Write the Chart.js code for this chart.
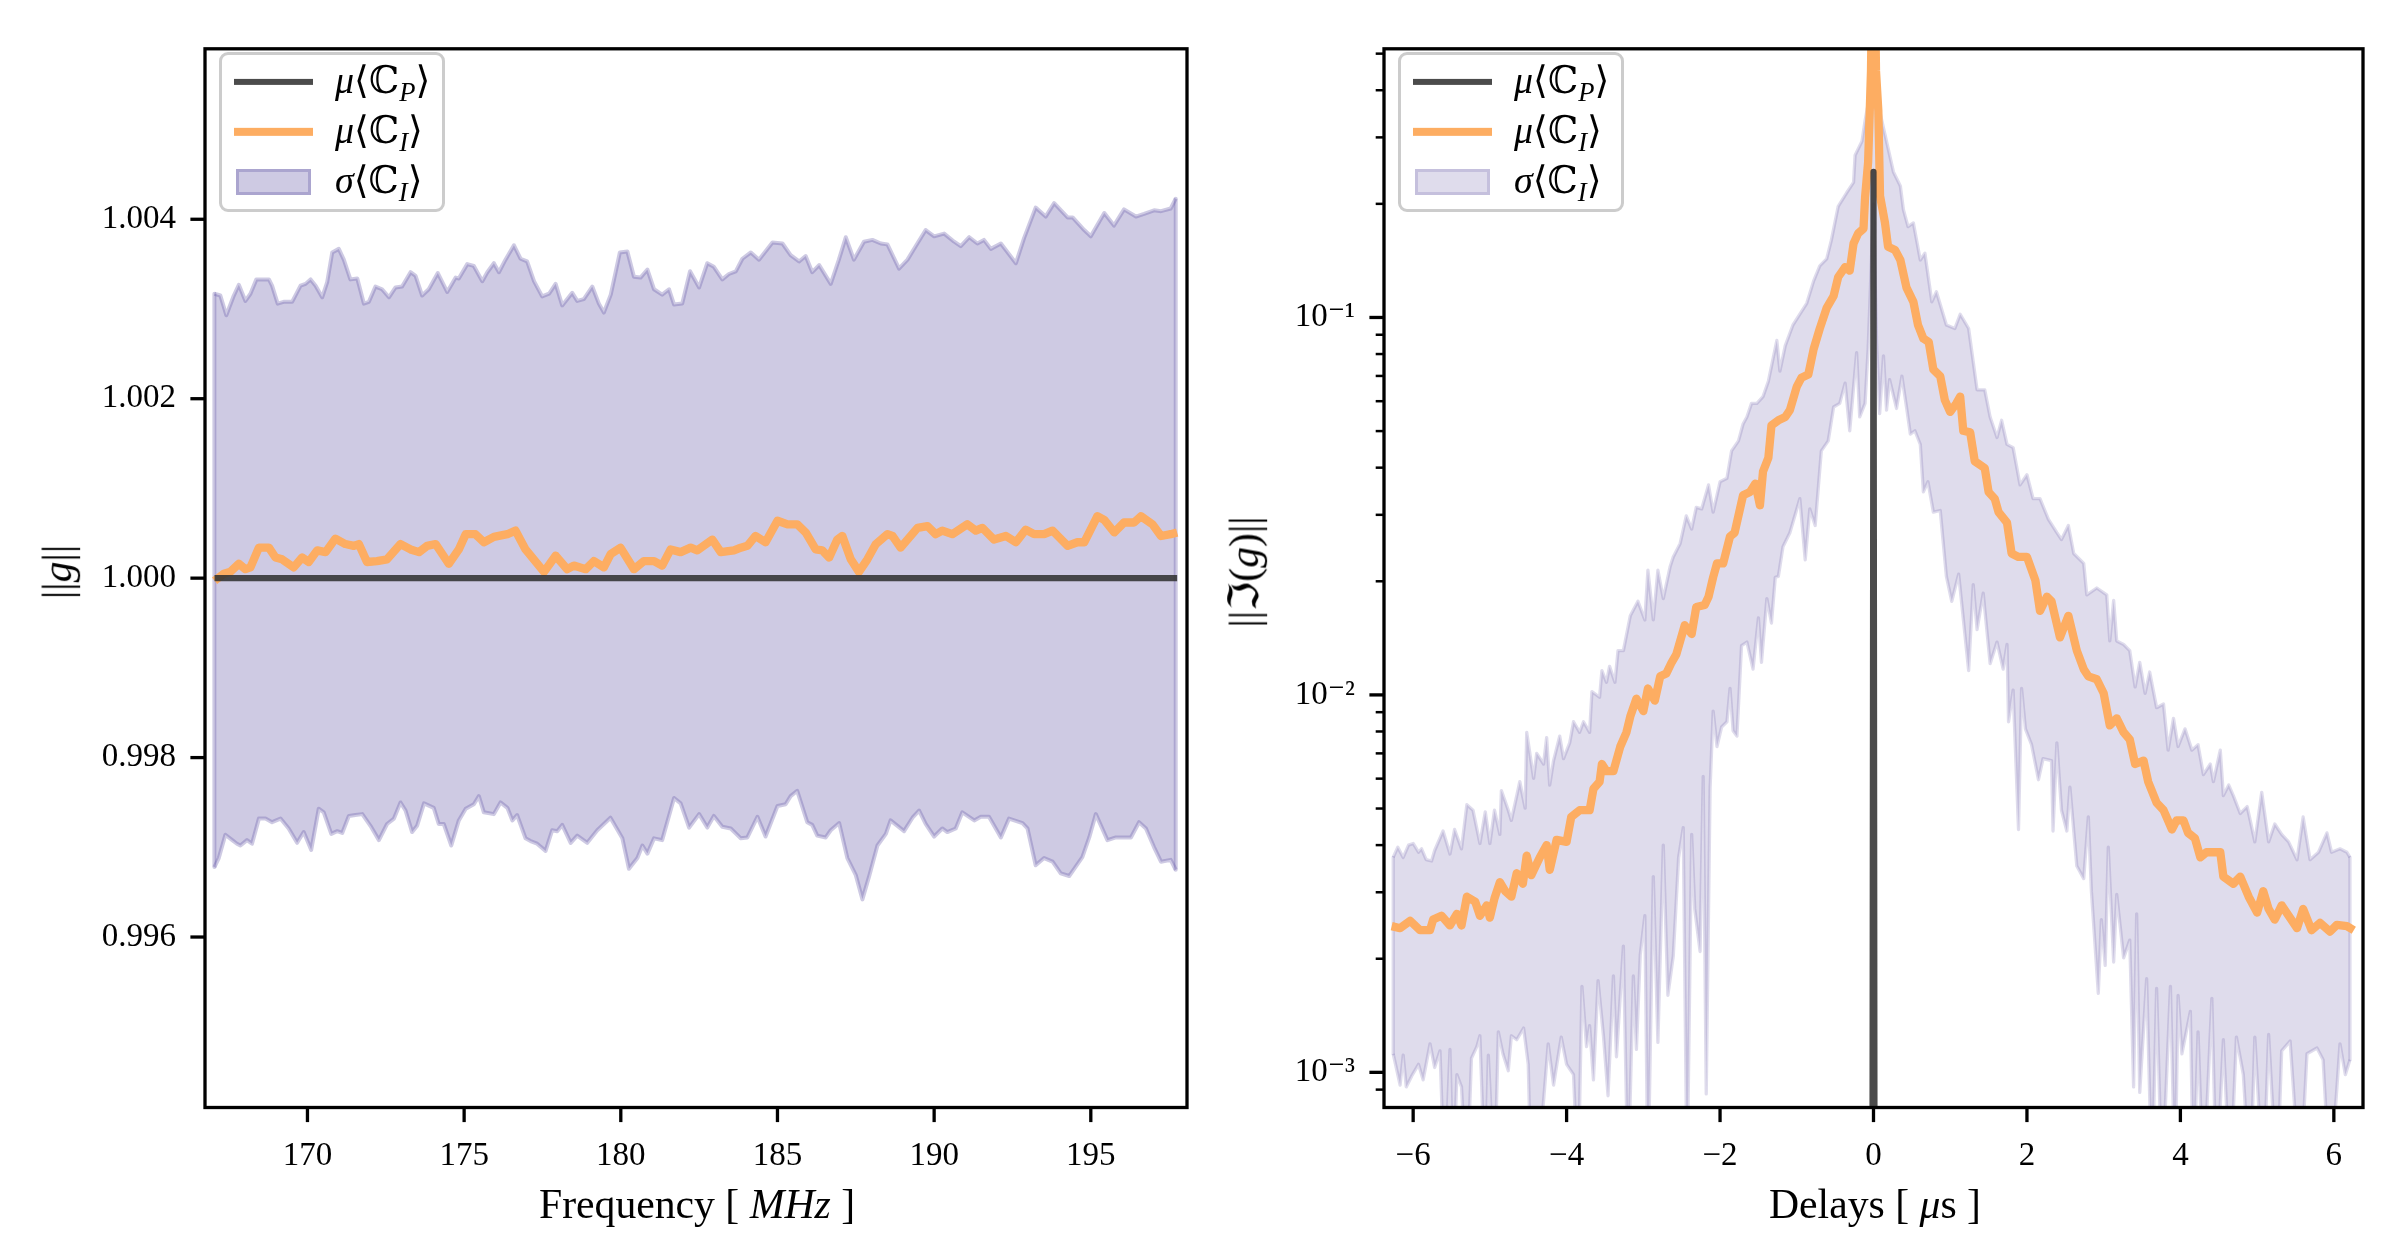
<!DOCTYPE html>
<html>
<head>
<meta charset="utf-8">
<script src="https://cdn.jsdelivr.net/npm/chart.js@4.4.1/dist/chart.umd.min.js"></script>
<style>
  body { margin: 0; background: #fff; }
  #fig { position: relative; width: 2400px; height: 1260px; overflow: hidden; background: #fff;
         font-family: 'Liberation Serif', 'DejaVu Serif', 'DejaVu Sans', serif; color: #000; }
  canvas { position: absolute; top: 0; }
  .lbl { position: absolute; white-space: nowrap; font-size: 41.7px; line-height: 1; transform: translate(-50%, -50%); }
  .rot { transform: translate(-50%, -50%) rotate(-90deg); }
  .leg { position: absolute; width: 226px; height: 160px; box-sizing: border-box; border: 3.5px solid #cccccc;
         border-radius: 9px; background: rgba(255,255,255,0.8); }
  .row { position: absolute; left: 0; width: 100%; height: 50px; }
  .hl { position: absolute; left: 12px; width: 79px; top: 50%; transform: translateY(-50%); }
  .hp { position: absolute; left: 14px; width: 75px; height: 26px; top: 50%; transform: translateY(-50%); box-sizing: border-box; }
  .tx { position: absolute; left: 113px; top: 50%; transform: translateY(-55%); font-size: 38px; line-height: 1; white-space: nowrap; }
  sub { font-size: 70%; vertical-align: -0.28em; line-height: 0; }
</style>
</head>
<body>
<div id="fig">
  <canvas id="gainChart" width="1200" height="1260" style="left:0"></canvas>
  <canvas id="delayChart" width="1200" height="1260" style="left:1200px"></canvas>

  <div class="lbl rot" style="left:58px; top:572px">||<i>g</i>||</div>
  <div class="lbl" style="left:697px; top:1205px">Frequency [ <i>MHz</i> ]</div>
  <div class="lbl rot" style="left:1245px; top:572px">||ℑ(<i>g</i>)||</div>
  <div class="lbl" style="left:1875px; top:1205px">Delays [ <i>μ</i>s ]</div>

  <div class="leg" style="left:219px; top:52px">
    <div class="row" style="top:2px"><div class="hl" style="height:6.2px; background:rgba(50,50,50,0.88)"></div>
      <div class="tx"><i>μ</i>⟨ℂ<sub><i>P</i></sub>⟩</div></div>
    <div class="row" style="top:52px"><div class="hl" style="height:8.3px; background:#fdad62"></div>
      <div class="tx"><i>μ</i>⟨ℂ<sub><i>I</i></sub>⟩</div></div>
    <div class="row" style="top:102px"><div class="hp" style="background:rgba(94,79,162,0.3); border:3px solid rgba(94,79,162,0.3)"></div>
      <div class="tx"><i>σ</i>⟨ℂ<sub><i>I</i></sub>⟩</div></div>
  </div>
  <div class="leg" style="left:1398px; top:52px">
    <div class="row" style="top:2px"><div class="hl" style="height:6.2px; background:rgba(50,50,50,0.88)"></div>
      <div class="tx"><i>μ</i>⟨ℂ<sub><i>P</i></sub>⟩</div></div>
    <div class="row" style="top:52px"><div class="hl" style="height:8.3px; background:#fdad62"></div>
      <div class="tx"><i>μ</i>⟨ℂ<sub><i>I</i></sub>⟩</div></div>
    <div class="row" style="top:102px"><div class="hp" style="background:rgba(94,79,162,0.2); border:3px solid rgba(94,79,162,0.2)"></div>
      <div class="tx"><i>σ</i>⟨ℂ<sub><i>I</i></sub>⟩</div></div>
  </div>
</div>

<script>
// tick labels
const freqTicks = [170, 175, 180, 185, 190, 195];
const gainTicks = [0.996, 0.998, 1.000, 1.002, 1.004];
const delayTicks = [-6, -4, -2, 0, 2, 4, 6];
const powerTicks = [1e-3, 1e-2, 1e-1];

// left panel: gain vs frequency (MHz)
const refFreq = [167.035, 197.755];
const refGain = [1.0, 1.0];

const meanFreq = [167.035, 167.33, 167.54, 167.81, 168.02, 168.18, 168.45, 168.77, 168.98, 169.19, 169.56, 169.83,
  170.04, 170.31, 170.58, 170.89, 171.21, 171.48, 171.64, 171.90, 172.22, 172.54, 172.97, 173.29, 173.56, 173.82,
  174.09, 174.51, 174.83, 175.05, 175.36, 175.63, 175.95, 176.38, 176.64, 176.96, 177.55, 177.92, 178.29, 178.50,
  178.88, 179.14, 179.46, 179.68, 179.99, 180.42, 180.74, 181.06, 181.32, 181.59, 181.91, 182.23, 182.44, 182.92,
  183.19, 183.61, 183.83, 184.04, 184.30, 184.62, 185.00, 185.32, 185.63, 185.90, 186.22, 186.43, 186.65, 186.91,
  187.07, 187.34, 187.60, 187.87, 188.14, 188.51, 188.67, 188.93, 189.47, 189.79, 190.05, 190.26, 190.58, 191.06,
  191.33, 191.54, 191.91, 192.29, 192.61, 192.92, 193.19, 193.51, 193.78, 194.26, 194.57, 194.79, 195.21, 195.43,
  195.75, 196.06, 196.38, 196.60, 196.97, 197.24, 197.55, 197.755];
const meanGain = [0.99997, 1.00005, 1.00007, 1.00016, 1.00010, 1.00012, 1.00034, 1.00034, 1.00023, 1.00021, 1.00012, 1.00023,
  1.00018, 1.00031, 1.00029, 1.00044, 1.00038, 1.00036, 1.00038, 1.00018, 1.00019, 1.00021, 1.00038, 1.00032, 1.00029, 1.00036,
  1.00038, 1.00016, 1.00032, 1.00049, 1.00049, 1.00040, 1.00046, 1.00049, 1.00053, 1.00032, 1.00007, 1.00025, 1.00010, 1.00014,
  1.00010, 1.00019, 1.00012, 1.00027, 1.00034, 1.00010, 1.00019, 1.00019, 1.00014, 1.00032, 1.00029, 1.00034, 1.00031, 1.00043,
  1.00029, 1.00031, 1.00034, 1.00036, 1.00047, 1.00040, 1.00064, 1.00060, 1.00060, 1.00051, 1.00032, 1.00031, 1.00023, 1.00043,
  1.00047, 1.00021, 1.00007, 1.00021, 1.00038, 1.00049, 1.00047, 1.00034, 1.00056, 1.00058, 1.00049, 1.00053, 1.00049, 1.00060,
  1.00053, 1.00056, 1.00043, 1.00047, 1.00040, 1.00054, 1.00049, 1.00049, 1.00053, 1.00036, 1.00040, 1.00040, 1.00069, 1.00065,
  1.00051, 1.00062, 1.00062, 1.00069, 1.00060, 1.00047, 1.00049, 1.00051];

const upperFreq = [167.03, 167.22, 167.41, 167.65, 167.81, 168.02, 168.18, 168.37, 168.77, 168.87, 169.05, 169.24, 169.51,
  169.78, 169.94, 170.10, 170.26, 170.47, 170.63, 170.79, 171.00, 171.16, 171.37, 171.59, 171.80, 171.96, 172.17, 172.38,
  172.60, 172.81, 173.02, 173.29, 173.45, 173.66, 173.87, 174.16, 174.46, 174.73, 174.83, 175.10, 175.31, 175.58, 175.74,
  175.95, 176.11, 176.32, 176.59, 176.80, 177.01, 177.23, 177.49, 177.71, 177.92, 178.13, 178.45, 178.61, 178.82, 179.09,
  179.30, 179.46, 179.68, 179.97, 180.21, 180.42, 180.63, 180.85, 181.06, 181.32, 181.54, 181.70, 181.96, 182.21, 182.50,
  182.76, 182.97, 183.24, 183.45, 183.67, 183.88, 184.15, 184.41, 184.84, 185.16, 185.42, 185.69, 185.90, 186.11, 186.33,
  186.70, 186.96, 187.18, 187.44, 187.76, 188.03, 188.30, 188.51, 188.88, 189.15, 189.41, 189.73, 190.00, 190.32, 190.64,
  190.85, 191.12, 191.38, 191.59, 191.81, 192.13, 192.61, 192.87, 193.24, 193.56, 193.83, 194.26, 194.42, 194.79, 195.00,
  195.43, 195.74, 196.06, 196.44, 196.70, 197.02, 197.24, 197.55, 197.71];
const upperGain = [1.00317, 1.00315, 1.00293, 1.00315, 1.00327, 1.00309, 1.00317, 1.00333, 1.00333, 1.00326, 1.00306, 1.00308, 1.00308,
  1.00326, 1.00328, 1.00333, 1.00326, 1.00313, 1.00330, 1.00363, 1.00367, 1.00355, 1.00333, 1.00334, 1.00306, 1.00308, 1.00325, 1.00322,
  1.00313, 1.00324, 1.00325, 1.00341, 1.00337, 1.00315, 1.00322, 1.00340, 1.00319, 1.00335, 1.00334, 1.00350, 1.00348, 1.00331, 1.00341,
  1.00351, 1.00341, 1.00355, 1.00371, 1.00356, 1.00353, 1.00331, 1.00314, 1.00317, 1.00328, 1.00304, 1.00318, 1.00309, 1.00311, 1.00325,
  1.00306, 1.00296, 1.00316, 1.00363, 1.00364, 1.00336, 1.00335, 1.00344, 1.00322, 1.00316, 1.00322, 1.00305, 1.00306, 1.00342, 1.00324,
  1.00351, 1.00347, 1.00333, 1.00339, 1.00342, 1.00356, 1.00363, 1.00355, 1.00374, 1.00373, 1.00360, 1.00353, 1.00359, 1.00341, 1.00349,
  1.00328, 1.00355, 1.00380, 1.00355, 1.00375, 1.00377, 1.00373, 1.00372, 1.00345, 1.00355, 1.00370, 1.00388, 1.00381, 1.00384, 1.00375,
  1.00370, 1.00380, 1.00373, 1.00377, 1.00367, 1.00373, 1.00351, 1.00379, 1.00413, 1.00403, 1.00418, 1.00402, 1.00402, 1.00388, 1.00381,
  1.00407, 1.00393, 1.00411, 1.00403, 1.00406, 1.00410, 1.00409, 1.00412, 1.00423];

const lowerFreq = [167.03, 167.17, 167.38, 167.60, 167.75, 167.86, 168.07, 168.23, 168.45, 168.66, 168.87, 169.14, 169.40,
  169.67, 169.88, 170.12, 170.36, 170.52, 170.76, 170.95, 171.11, 171.32, 171.53, 171.75, 172.01, 172.28, 172.54, 172.76,
  172.97, 173.13, 173.34, 173.50, 173.72, 174.03, 174.19, 174.35, 174.59, 174.83, 175.05, 175.31, 175.47, 175.63, 175.95,
  176.16, 176.38, 176.54, 176.69, 176.96, 177.12, 177.33, 177.60, 177.81, 177.97, 178.13, 178.40, 178.61, 178.93, 179.25,
  179.67, 180.05, 180.26, 180.53, 180.69, 180.85, 181.06, 181.32, 181.70, 181.91, 182.18, 182.50, 182.76, 182.97, 183.24,
  183.51, 183.83, 184.04, 184.36, 184.62, 185.00, 185.26, 185.42, 185.63, 185.95, 186.11, 186.27, 186.54, 186.70, 186.97,
  187.23, 187.50, 187.71, 187.92, 188.19, 188.46, 188.61, 189.04, 189.31, 189.52, 189.73, 190.00, 190.26, 190.42, 190.69,
  190.90, 191.28, 191.49, 191.75, 192.13, 192.39, 192.82, 192.98, 193.24, 193.51, 193.78, 194.04, 194.31, 194.73, 194.95,
  195.16, 195.53, 195.80, 196.28, 196.54, 196.76, 197.02, 197.24, 197.55, 197.71];
const lowerGain = [0.99678, 0.99688, 0.99714, 0.99708, 0.99704, 0.99702, 0.99708, 0.99704, 0.99732, 0.99732, 0.99728, 0.99732, 0.99721,
  0.99705, 0.99717, 0.99697, 0.99743, 0.99739, 0.99715, 0.99718, 0.99716, 0.99735, 0.99736, 0.99737, 0.99724, 0.99708, 0.99726, 0.99732,
  0.99750, 0.99741, 0.99717, 0.99724, 0.99749, 0.99744, 0.99726, 0.99726, 0.99702, 0.99730, 0.99743, 0.99748, 0.99757, 0.99739, 0.99737,
  0.99750, 0.99744, 0.99730, 0.99736, 0.99710, 0.99707, 0.99704, 0.99696, 0.99719, 0.99718, 0.99725, 0.99705, 0.99713, 0.99705, 0.99719,
  0.99733, 0.99710, 0.99676, 0.99688, 0.99702, 0.99693, 0.99710, 0.99708, 0.99755, 0.99749, 0.99722, 0.99737, 0.99722, 0.99735, 0.99723,
  0.99721, 0.99710, 0.99711, 0.99734, 0.99712, 0.99746, 0.99748, 0.99757, 0.99763, 0.99728, 0.99725, 0.99713, 0.99711, 0.99719, 0.99727,
  0.99688, 0.99669, 0.99642, 0.99667, 0.99702, 0.99715, 0.99730, 0.99718, 0.99733, 0.99741, 0.99726, 0.99712, 0.99721, 0.99717, 0.99721,
  0.99739, 0.99730, 0.99734, 0.99734, 0.99711, 0.99732, 0.99727, 0.99721, 0.99680, 0.99688, 0.99684, 0.99671, 0.99668, 0.99689, 0.99711,
  0.99737, 0.99708, 0.99711, 0.99711, 0.99728, 0.99721, 0.99700, 0.99684, 0.99686, 0.99675];

// right panel: delay spectrum (delays in microseconds)
const peakDelay = [-0.0326, 0, 0.0326];
const peakPower = [1e-7, 0.243, 1e-7];

const meanDelay = [-6.28, -6.17, -6.04, -5.91, -5.78, -5.74, -5.63, -5.52, -5.43, -5.37, -5.30, -5.19, -5.13, -5.04, -5.00,
  -4.94, -4.87, -4.80, -4.72, -4.65, -4.57, -4.52, -4.46, -4.35, -4.26, -4.22, -4.13, -4.00, -3.94, -3.83, -3.70, -3.65,
  -3.57, -3.54, -3.48, -3.39, -3.30, -3.22, -3.17, -3.09, -3.00, -2.94, -2.85, -2.78, -2.70, -2.63, -2.57, -2.46, -2.37,
  -2.31, -2.20, -2.15, -2.09, -2.04, -1.96, -1.87, -1.81, -1.70, -1.61, -1.54, -1.48, -1.44, -1.37, -1.33, -1.24, -1.15,
  -1.09, -1.00, -0.94, -0.85, -0.78, -0.70, -0.61, -0.52, -0.46, -0.37, -0.31, -0.26, -0.20, -0.13, -0.11, -0.07, -0.0326,
  0, 0.0326, 0.063, 0.085, 0.15, 0.19, 0.28, 0.35, 0.43, 0.52, 0.58, 0.65, 0.72, 0.78, 0.87, 0.93, 1.00, 1.08, 1.13, 1.17,
  1.26, 1.32, 1.45, 1.50, 1.58, 1.63, 1.74, 1.80, 1.89, 2.00, 2.11, 2.17, 2.26, 2.32, 2.43, 2.54, 2.65, 2.74, 2.80, 2.91,
  3.00, 3.08, 3.17, 3.26, 3.34, 3.41, 3.52, 3.58, 3.69, 3.78, 3.89, 3.95, 4.04, 4.10, 4.19, 4.26, 4.34, 4.52, 4.56, 4.69,
  4.78, 4.89, 5.00, 5.08, 5.15, 5.23, 5.32, 5.52, 5.60, 5.71, 5.82, 5.95, 6.04, 6.17, 6.26];
const meanPower = [0.00244, 0.00241, 0.00252, 0.00238, 0.00238, 0.00254, 0.00260, 0.00245, 0.00263, 0.00245, 0.00292, 0.00283, 0.00260, 0.00277, 0.00257,
  0.00289, 0.00319, 0.00302, 0.00292, 0.00337, 0.00316, 0.00375, 0.00333, 0.00371, 0.00400, 0.00344, 0.00413, 0.00408, 0.00475, 0.00495, 0.00495, 0.00564,
  0.00589, 0.00656, 0.00628, 0.00628, 0.00730, 0.00796, 0.00877, 0.00977, 0.00906, 0.0104, 0.00966, 0.0112, 0.0114, 0.0122, 0.0128, 0.0153, 0.0145,
  0.0171, 0.0173, 0.0182, 0.0205, 0.0223, 0.0223, 0.0263, 0.0269, 0.0338, 0.0345, 0.0363, 0.0318, 0.0391, 0.0425, 0.0518, 0.0534, 0.0545,
  0.0568, 0.0656, 0.0692, 0.0706, 0.0825, 0.0935, 0.106, 0.114, 0.128, 0.136, 0.133, 0.157, 0.167, 0.172, 0.208, 0.258, 0.45,
  1.5, 0.45, 0.353, 0.210, 0.178, 0.154, 0.151, 0.142, 0.120, 0.110, 0.0955, 0.0879, 0.0861, 0.0728, 0.0699, 0.0604, 0.0562, 0.0592, 0.0617, 0.0501,
  0.0496, 0.0416, 0.0399, 0.0345, 0.0331, 0.0305, 0.0286, 0.0237, 0.0232, 0.0232, 0.0201, 0.0167, 0.0182, 0.0177, 0.0142, 0.0162, 0.0131, 0.0117, 0.0112, 0.0110,
  0.0101, 0.00830, 0.00867, 0.00796, 0.00762, 0.00656, 0.00670, 0.00589, 0.00518, 0.00495, 0.00440, 0.00465, 0.00465, 0.00431, 0.00417, 0.00371, 0.00383, 0.00383, 0.00330, 0.00316,
  0.00330, 0.00292, 0.00265, 0.00302, 0.00271, 0.00254, 0.00277, 0.00241, 0.00271, 0.00238, 0.00249, 0.00236, 0.00246, 0.00244, 0.00238];

const upperDelay = [-6.26, -6.20, -6.13, -6.06, -6.00, -5.93, -5.89, -5.83, -5.76, -5.72, -5.61, -5.52, -5.46, -5.37, -5.30,
  -5.22, -5.13, -5.06, -5.00, -4.94, -4.87, -4.85, -4.76, -4.72, -4.61, -4.54, -4.52, -4.43, -4.39, -4.30, -4.26, -4.22,
  -4.17, -4.09, -4.04, -3.96, -3.91, -3.83, -3.78, -3.70, -3.67, -3.57, -3.54, -3.48, -3.44, -3.37, -3.33, -3.26, -3.17,
  -3.07, -2.98, -2.94, -2.87, -2.81, -2.74, -2.65, -2.61, -2.52, -2.44, -2.37, -2.31, -2.24, -2.15, -2.09, -2.00, -1.91,
  -1.85, -1.76, -1.70, -1.65, -1.59, -1.52, -1.44, -1.37, -1.26, -1.22, -1.15, -1.05, -0.96, -0.87, -0.78, -0.70, -0.61,
  -0.55, -0.46, -0.35, -0.26, -0.24, -0.15, -0.11, -0.07, -0.03, 0, 0.03, 0.06, 0.13, 0.19, 0.26, 0.35, 0.39, 0.45, 0.52,
  0.61, 0.67, 0.76, 0.82, 0.95, 1.06, 1.13, 1.24, 1.35, 1.45, 1.52, 1.61, 1.67, 1.74, 1.82, 1.91, 2.00, 2.08, 2.17, 2.28,
  2.39, 2.45, 2.54, 2.61, 2.74, 2.78, 2.91, 3.04, 3.08, 3.13, 3.17, 3.26, 3.34, 3.41, 3.47, 3.54, 3.60, 3.69, 3.78, 3.84,
  3.91, 3.97, 4.06, 4.15, 4.23, 4.30, 4.39, 4.43, 4.52, 4.56, 4.63, 4.69, 4.78, 4.87, 4.91, 4.97, 5.06, 5.15, 5.23, 5.32,
  5.41, 5.52, 5.60, 5.69, 5.80, 5.91, 5.97, 6.08, 6.17, 6.21];
const upperPower = [0.00371, 0.00395, 0.00371, 0.00400, 0.00404, 0.00383, 0.00391, 0.00366, 0.00363, 0.00387, 0.00436, 0.00379, 0.00440, 0.00391, 0.00512,
  0.00495, 0.00404, 0.00490, 0.00404, 0.00495, 0.00427, 0.00558, 0.00495, 0.00465, 0.00589, 0.00501, 0.00796, 0.00601, 0.00700, 0.00656, 0.00771, 0.00577,
  0.00670, 0.00778, 0.00678, 0.00746, 0.00849, 0.00796, 0.00849, 0.00796, 0.0102, 0.00986, 0.0116, 0.0108, 0.0119, 0.0108, 0.0131, 0.0131, 0.0162,
  0.0177, 0.0158, 0.0214, 0.0158, 0.0214, 0.0180, 0.0219, 0.0232, 0.0252, 0.0298, 0.0275, 0.0314, 0.0311, 0.0360, 0.0305, 0.0367, 0.0375,
  0.0443, 0.0471, 0.0522, 0.0545, 0.0592, 0.0592, 0.0617, 0.0678, 0.0869, 0.0721, 0.0842, 0.0955, 0.102, 0.109, 0.125, 0.137, 0.143,
  0.160, 0.197, 0.214, 0.228, 0.269, 0.293, 0.332, 0.368, 0.6, 2.0, 0.6, 0.368, 0.318, 0.281, 0.243, 0.223, 0.193, 0.174, 0.178,
  0.142, 0.148, 0.110, 0.117, 0.0955, 0.0935, 0.102, 0.0935, 0.0643, 0.0643, 0.0545, 0.0481, 0.0534, 0.0461, 0.0452, 0.0360, 0.0383, 0.0331, 0.0331, 0.0292,
  0.0269, 0.0258, 0.0281, 0.0237, 0.0223, 0.0184, 0.0192, 0.0184, 0.0139, 0.0178, 0.0139, 0.0136, 0.0131, 0.0105, 0.0122, 0.0101, 0.0115, 0.00925, 0.00946, 0.00714,
  0.00867, 0.00730, 0.00813, 0.00714, 0.00738, 0.00615, 0.00656, 0.00589, 0.00714, 0.00541, 0.00577, 0.00541, 0.00485, 0.00506, 0.00465, 0.00408, 0.00552, 0.00408, 0.00455, 0.00427,
  0.00408, 0.00366, 0.00475, 0.00366, 0.00383, 0.00431, 0.00383, 0.00391, 0.00383, 0.00371];

const lowerDelay = [-6.26, -6.17, -6.13, -6.09, -6.02, -5.93, -5.87, -5.78, -5.72, -5.65, -5.59, -5.52, -5.48, -5.43, -5.37,
  -5.30, -5.24, -5.17, -5.13, -5.06, -5.02, -4.94, -4.89, -4.83, -4.76, -4.72, -4.65, -4.56, -4.50, -4.46, -4.39, -4.24,
  -4.17, -4.07, -4.00, -3.91, -3.85, -3.80, -3.74, -3.70, -3.65, -3.59, -3.52, -3.46, -3.39, -3.35, -3.26, -3.20, -3.13,
  -3.09, -3.04, -2.98, -2.94, -2.87, -2.81, -2.74, -2.68, -2.61, -2.54, -2.48, -2.43, -2.37, -2.33, -2.26, -2.22, -2.18,
  -2.13, -2.09, -2.04, -1.98, -1.91, -1.87, -1.83, -1.78, -1.72, -1.65, -1.57, -1.50, -1.46, -1.39, -1.33, -1.28, -1.24,
  -1.18, -1.09, -0.96, -0.89, -0.83, -0.76, -0.68, -0.59, -0.52, -0.44, -0.37, -0.31, -0.22, -0.18, -0.11, -0.07, 0,
  0.04, 0.08, 0.13, 0.17, 0.21, 0.30, 0.37, 0.43, 0.48, 0.54, 0.61, 0.65, 0.71, 0.78, 0.87, 0.95, 1.02, 1.11, 1.24, 1.30,
  1.35, 1.43, 1.52, 1.61, 1.69, 1.74, 1.76, 1.82, 1.89, 1.93, 1.98, 2.06, 2.15, 2.21, 2.32, 2.34, 2.39, 2.45, 2.52, 2.56,
  2.65, 2.74, 2.80, 2.84, 2.93, 2.97, 3.02, 3.06, 3.13, 3.17, 3.26, 3.34, 3.39, 3.43, 3.47, 3.56, 3.63, 3.69, 3.76, 3.87,
  3.93, 3.97, 4.02, 4.13, 4.17, 4.23, 4.30, 4.41, 4.47, 4.56, 4.65, 4.73, 4.82, 4.91, 4.97, 5.08, 5.15, 5.26, 5.32, 5.43,
  5.56, 5.65, 5.78, 5.86, 5.95, 6.08, 6.15, 6.21];
const lowerPower = [0.00112, 0.000925, 0.00111, 0.000915, 0.000977, 0.00105, 0.000955, 0.00119, 0.00103, 0.00114, 0.0005, 0.00115, 0.0005, 0.000986, 0.000915,
  0.0005, 0.00109, 0.00117, 0.00125, 0.0005, 0.00111, 0.0005, 0.00128, 0.00112, 0.00101, 0.00125, 0.00122, 0.00131, 0.00105, 0.0005, 0.0005, 0.00119,
  0.000925, 0.00124, 0.00105, 0.000986, 0.0005, 0.00169, 0.00117, 0.00133, 0.000955, 0.00175, 0.00125, 0.000867, 0.00180, 0.00110, 0.00216, 0.0005, 0.00180,
  0.00115, 0.00205, 0.00260, 0.0005, 0.00330, 0.00120, 0.00400, 0.00160, 0.00203, 0.00371, 0.00445, 0.0005, 0.00427, 0.00271, 0.00209, 0.00608, 0.000877,
  0.00564, 0.00906, 0.00730, 0.00822, 0.00849, 0.0104, 0.00804, 0.00778, 0.0135, 0.0138, 0.0117, 0.0160, 0.0122, 0.0180, 0.0155, 0.0205, 0.0206,
  0.0247, 0.0269, 0.0331, 0.0228, 0.0311, 0.0281, 0.0443, 0.0471, 0.0579, 0.0592, 0.0670, 0.0501, 0.0807, 0.0545, 0.0592, 0.0825, 0.2,
  0.0859, 0.0556, 0.0791, 0.0568, 0.0684, 0.0574, 0.0699, 0.0579, 0.0491, 0.0501, 0.0461, 0.0345, 0.0367, 0.0305, 0.0308, 0.0206, 0.0177, 0.0209, 0.0116, 0.0196,
  0.0149, 0.0186, 0.0121, 0.0138, 0.0117, 0.0136, 0.00849, 0.0103, 0.00440, 0.0104, 0.00813, 0.00738, 0.00596, 0.00678, 0.00670, 0.00436, 0.00746, 0.00495, 0.00436, 0.00570,
  0.00352, 0.00326, 0.00475, 0.00302, 0.00162, 0.00254, 0.00192, 0.00395, 0.00196, 0.00296, 0.00201, 0.00224, 0.000915, 0.00263, 0.000885, 0.00177, 0.0005, 0.00167, 0.0005, 0.00169,
  0.0005, 0.00160, 0.00112, 0.00145, 0.0005, 0.00128, 0.0005, 0.00157, 0.0005, 0.00122, 0.0005, 0.00124, 0.000986, 0.0005, 0.00124, 0.0005, 0.00126, 0.0005, 0.00114, 0.00121,
  0.0005, 0.00112, 0.00116, 0.00108, 0.0005, 0.00119, 0.000986, 0.00108];

const DARK = 'rgba(50,50,50,0.88)';
const ORANGE = '#fdad62';
const FONT = { family: "'Liberation Serif', 'DejaVu Serif', serif", size: 33 };

function pts(xs, ys) {
  return xs.map((x, i) => ({ x: x, y: ys[i] }));
}

// closing edges of a band (first and last sample of upper and lower bounds)
function bandEnds(ux, uy, lx, ly) {
  const n = ux.length - 1, m = lx.length - 1;
  return [{ x: ux[0], y: uy[0] }, { x: lx[0], y: ly[0] }, { x: NaN, y: NaN },
          { x: ux[n], y: uy[n] }, { x: lx[m], y: ly[m] }];
}

function sup(n) {
  const m = { '-': '\u207B', '0': '\u2070', '1': '\u00B9', '2': '\u00B2', '3': '\u00B3', '4': '\u2074' };
  return String(n).split('').map(c => m[c]).join('');
}

// frame and tick marks drawn like matplotlib spines
const axesFrame = {
  id: 'axesFrame',
  afterDraw(chart, args, opts) {
    const { ctx, chartArea: a, scales } = chart;
    ctx.save();
    ctx.strokeStyle = '#000';
    ctx.lineCap = 'butt';
    ctx.lineWidth = 3.3;
    for (const v of opts.xMajor) {
      const px = scales.x.getPixelForValue(v);
      ctx.beginPath(); ctx.moveTo(px, a.bottom); ctx.lineTo(px, a.bottom + 14.6); ctx.stroke();
    }
    for (const v of opts.yMajor) {
      const py = scales.y.getPixelForValue(v);
      ctx.beginPath(); ctx.moveTo(a.left - 14.6, py); ctx.lineTo(a.left, py); ctx.stroke();
    }
    ctx.lineWidth = 2.5;
    for (const v of (opts.yMinor || [])) {
      const py = scales.y.getPixelForValue(v);
      ctx.beginPath(); ctx.moveTo(a.left - 8.3, py); ctx.lineTo(a.left, py); ctx.stroke();
    }
    ctx.lineWidth = 3.3;
    ctx.strokeRect(a.left, a.top, a.right - a.left, a.bottom - a.top);
    ctx.restore();
  }
};

function axis(extra) {
  return Object.assign({
    grid: { display: false, drawTicks: false },
    border: { display: false },
    ticks: { padding: 29, font: FONT, color: '#000', autoSkip: false, maxRotation: 0 }
  }, extra);
}

function lineSet(label, data, color, width, fill, bg) {
  return {
    label: label, data: data, borderColor: color, borderWidth: width,
    backgroundColor: bg || color, fill: fill || false, spanGaps: false,
    pointRadius: 0, tension: 0, borderJoinStyle: 'round', clip: 0
  };
}

// left: ||g|| vs frequency
new Chart(document.getElementById('gainChart'), {
  type: 'line',
  data: {
    datasets: [
      lineSet('mu C_P', pts(refFreq, refGain), DARK, 6.2),
      lineSet('mu C_I', pts(meanFreq, meanGain), ORANGE, 8.3),
      lineSet('sigma C_I', pts(upperFreq, upperGain), 'rgba(94,79,162,0.3)', 4, '+1', 'rgba(94,79,162,0.3)'),
      lineSet('sigma low', pts(lowerFreq, lowerGain), 'rgba(94,79,162,0.3)', 4),
      lineSet('sigma ends', bandEnds(upperFreq, upperGain, lowerFreq, lowerGain), 'rgba(94,79,162,0.3)', 4)
    ]
  },
  options: {
    responsive: false, animation: false, devicePixelRatio: 1,
    layout: { padding: { left: 0, top: 36, right: 13, bottom: 0 } },
    plugins: {
      legend: { display: false }, tooltip: { enabled: false },
      axesFrame: { xMajor: freqTicks, yMajor: gainTicks }
    },
    scales: {
      x: axis({
        type: 'linear', min: 166.73, max: 198.07,
        afterBuildTicks: s => { s.ticks = freqTicks.map(v => ({ value: v })); },
        afterFit: s => { s.height = 152.5; },
        ticks: { padding: 29, font: FONT, color: '#000', autoSkip: false, maxRotation: 0, callback: v => String(v) }
      }),
      y: axis({
        type: 'linear', min: 0.99410, max: 1.00590,
        afterBuildTicks: s => { s.ticks = gainTicks.map(v => ({ value: v })); },
        afterFit: s => { s.width = 205; },
        ticks: { padding: 29, font: FONT, color: '#000', autoSkip: false, callback: v => Number(v).toFixed(3) }
      })
    }
  },
  plugins: [axesFrame]
});

// right: ||F(g)|| vs delay, log scale
const powerMinor = [];
for (const dec of [1e-4, 1e-3, 1e-2, 1e-1]) {
  for (const k of [2, 3, 4, 5, 6, 7, 8, 9]) {
    const v = k * dec;
    if (v > 8.07e-4 && v < 0.515) powerMinor.push(v);
  }
}

new Chart(document.getElementById('delayChart'), {
  type: 'line',
  data: {
    datasets: [
      lineSet('mu C_P', pts(peakDelay, peakPower), DARK, 6.2),
      lineSet('mu C_I', pts(meanDelay, meanPower), ORANGE, 8.3),
      lineSet('sigma C_I', pts(upperDelay, upperPower), 'rgba(94,79,162,0.2)', 3.3, '+1', 'rgba(94,79,162,0.2)'),
      lineSet('sigma low', pts(lowerDelay, lowerPower), 'rgba(94,79,162,0.2)', 3.3),
      lineSet('sigma ends', bandEnds(upperDelay, upperPower, lowerDelay, lowerPower), 'rgba(94,79,162,0.2)', 3.3)
    ]
  },
  options: {
    responsive: false, animation: false, devicePixelRatio: 1,
    layout: { padding: { left: 0, top: 36, right: 37, bottom: 0 } },
    plugins: {
      legend: { display: false }, tooltip: { enabled: false },
      axesFrame: { xMajor: delayTicks, yMajor: powerTicks, yMinor: powerMinor }
    },
    scales: {
      x: axis({
        type: 'linear', min: -6.38, max: 6.38,
        afterBuildTicks: s => { s.ticks = delayTicks.map(v => ({ value: v })); },
        afterFit: s => { s.height = 152.5; },
        ticks: { padding: 29, font: FONT, color: '#000', autoSkip: false, maxRotation: 0,
                 callback: v => (v < 0 ? '\u2212' + Math.abs(v) : String(v)) }
      }),
      y: axis({
        type: 'logarithmic', min: 8.07e-4, max: 0.515,
        afterBuildTicks: s => { s.ticks = powerTicks.map(v => ({ value: v })); },
        afterFit: s => { s.width = 184; },
        ticks: { padding: 29, font: FONT, color: '#000', autoSkip: false,
                 callback: v => '10' + sup(Math.round(Math.log10(v))) }
      })
    }
  },
  plugins: [axesFrame]
});
</script>
</body>
</html>
